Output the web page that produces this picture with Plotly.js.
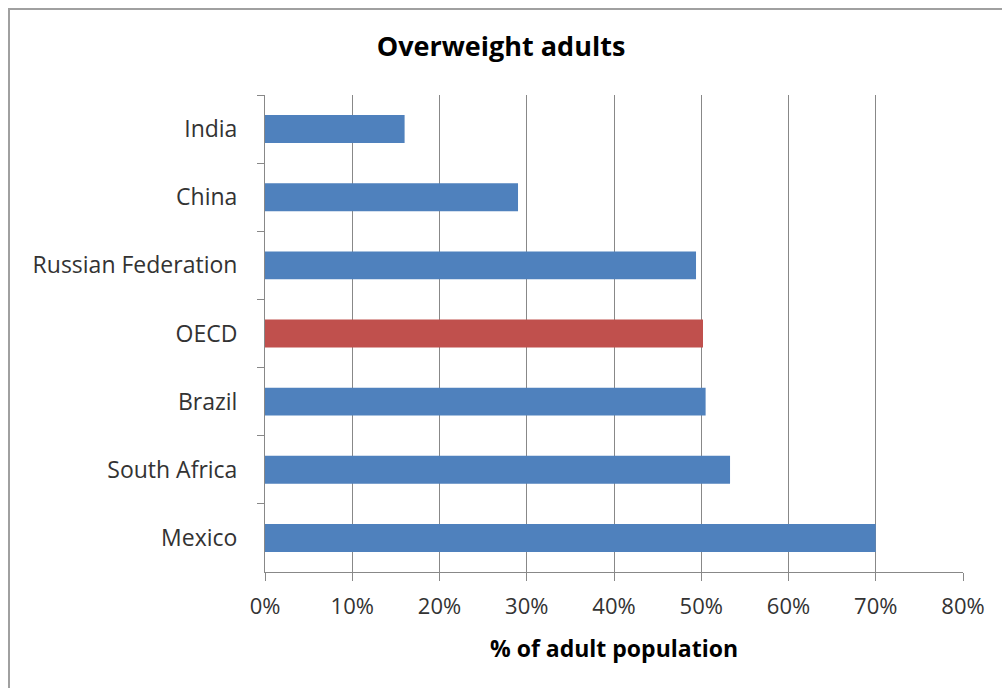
<!DOCTYPE html>
<html>
<head>
<meta charset="utf-8">
<script src="https://cdn.plot.ly/plotly-3.0.1.min.js"></script>
<style>
  html, body { margin: 0; padding: 0; background: #fff; }
  #frame { position: absolute; left: 8px; top: 8px; width: 1000px; height: 690px; border-left: 2px solid #a0a0a0; border-top: 2px solid #a0a0a0; box-sizing: border-box; }
  #chart { position: absolute; left: 0; top: 0; width: 1002px; height: 688px; }
</style>
</head>
<body>
<div id="frame"></div>
<div id="chart"></div>
<script>
const categories = ["India", "China", "Russian Federation", "OECD", "Brazil", "South Africa", "Mexico"];
const values = [0.160, 0.290, 0.494, 0.502, 0.505, 0.533, 0.700];
const barColors = ["#4F81BD", "#4F81BD", "#4F81BD", "#C0504D", "#4F81BD", "#4F81BD", "#4F81BD"];
const xTickVals = [0, 0.1, 0.2, 0.3, 0.4, 0.5, 0.6, 0.7, 0.8];
const xTickText = ["0%", "10%", "20%", "30%", "40%", "50%", "60%", "70%", "80%"];

const font = "Open Sans, Lato, sans-serif";

Plotly.newPlot("chart", [{
  type: "bar",
  orientation: "h",
  y: categories,
  x: values,
  marker: { color: barColors },
  width: 0.41,
  hoverinfo: "x+y"
}], {
  width: 1002,
  height: 688,
  paper_bgcolor: "rgba(0,0,0,0)",
  plot_bgcolor: "rgba(0,0,0,0)",
  margin: { l: 265, r: 39, t: 95, b: 116 },
  showlegend: false,
  title: {
    text: "<b>Overweight adults</b>",
    font: { family: font, size: 27, color: "#000" },
    x: 0.5, xanchor: "center",
    y: 1 - 47 / 688, yanchor: "middle"
  },
  xaxis: {
    range: [0, 0.8],
    tickvals: xTickVals,
    ticktext: xTickText,
    ticks: "outside",
    ticklen: 8,
    tickcolor: "#888",
    showgrid: true,
    gridcolor: "#888",
    gridwidth: 1,
    showline: true,
    linecolor: "#888",
    linewidth: 1,
    zeroline: false,
    ticklabelstandoff: 7,
    tickfont: { family: font, size: 22, color: "#333" },
    title: {
      text: "<b>% of adult population</b>",
      font: { family: font, size: 23, color: "#000" },
      standoff: 21
    },
    fixedrange: true
  },
  yaxis: {
    autorange: "reversed",
    type: "category",
    tickson: "boundaries",
    ticks: "outside",
    ticklen: 7,
    tickcolor: "#888",
    showgrid: false,
    showline: true,
    linecolor: "#888",
    linewidth: 1,
    zeroline: false,
    ticklabelstandoff: 22,
    tickfont: { family: font, size: 23, color: "#333" },
    fixedrange: true
  }
}, { displayModeBar: false, staticPlot: true });
</script>
</body>
</html>
